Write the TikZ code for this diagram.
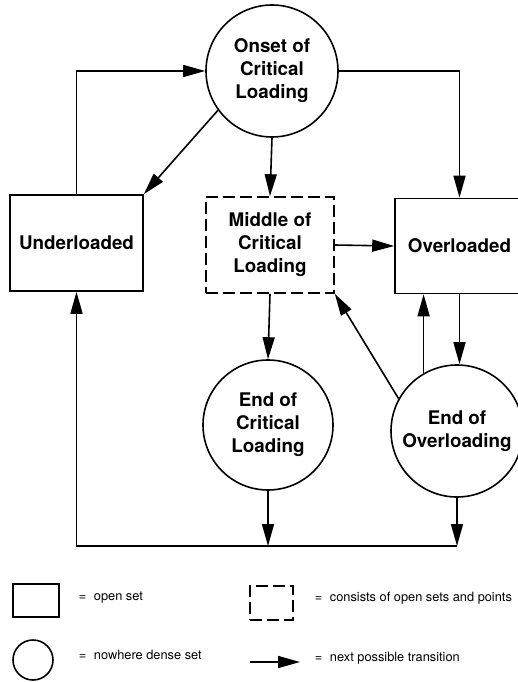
\documentclass[tikz,border=0pt]{standalone}
\usepackage{fontspec}
\setmainfont{TeX Gyre Heros}
\usetikzlibrary{arrows.meta}

\begin{document}
\begin{tikzpicture}[x=1pt,y=-1pt,line width=1.6pt,
    every node/.style={font=\bfseries\fontsize{18.8}{23}\selectfont,align=center},
    state/.style={draw,rectangle,minimum width=133pt,minimum height=96pt,inner sep=0pt},
    event/.style={draw,circle,minimum size=132pt,inner sep=0pt},
    mixed/.style={state,dash pattern=on 12pt off 5pt},
    trans/.style={-{Triangle[length=22pt,width=12pt]}},
    keytext/.style={anchor=west,inner sep=0pt,font=\fontsize{12.8}{15}\selectfont}]
    \useasboundingbox (0,0) rectangle (518,682);
    % sets of the loading process
    \node[event] (onset) at (272,71) {Onset of\\Critical\\Loading};
    \node[state] (under) at (76.5,243) {Underloaded};
    \node[mixed,minimum width=128pt] (middle) at (270,245) {Middle of\\Critical\\Loading};
    \node[state,minimum width=129pt,minimum height=95pt] (over) at (459.5,246) {Overloaded};
    \node[event,minimum size=130pt] (endcrit) at (268,425) {End of\\Critical\\Loading};
    \node[event] (endover) at (457,431) {End of\\Overloading};
    \coordinate (base) at (0,546);
    % transitions
    \draw[trans] (under.north) |- (onset.west);
    \draw[trans] (onset.216) -- (under.north east);
    \draw[trans] (onset.south) -- (middle.north);
    \draw[trans] (onset.east) -| (over.north);
    \draw[trans] (middle.east) -- (over.west);
    \draw[trans] (middle.south) -- (endcrit.north);
    \draw[trans] (over.south) -- (over.south |- endover.north);
    \draw[trans] (endover.120) -- (endover.120 |- over.south);
    \draw[trans] (endover.151) -- (middle.south east);
    \draw[trans] (endcrit.south) -- (endcrit.south |- base);
    \draw[trans] (endover.south) -- (endover.south |- base);
    \draw[trans] (endover.south |- base) -| (under.south);
    % legend
    \node[draw,minimum width=46pt,minimum height=33pt,inner sep=0pt] (keyopen) at (36,600.5) {};
    \node[keytext] (keyopentxt) at (78,598) {=\hspace{0.6em}open set};
    \node[draw,dash pattern=on 12pt off 5pt,minimum width=43pt,minimum height=34pt,inner sep=0pt] (keymixed) at (271.5,603) {};
    \node[keytext] (keymixedtxt) at (314,598) {=\hspace{0.6em}consists of open sets and points};
    \node[draw,circle,minimum size=40pt,inner sep=0pt] (keydense) at (33,660) {};
    \node[keytext] (keydensetxt) at (78,655) {=\hspace{0.6em}nowhere dense set};
    \coordinate (keyfrom) at (250,662);
    \coordinate (keyto) at (300,662);
    \draw[trans] (keyfrom) -- (keyto);
    \node[keytext] (keytranstxt) at (314,658) {=\hspace{0.6em}next possible transition};
\end{tikzpicture}
\end{document}
